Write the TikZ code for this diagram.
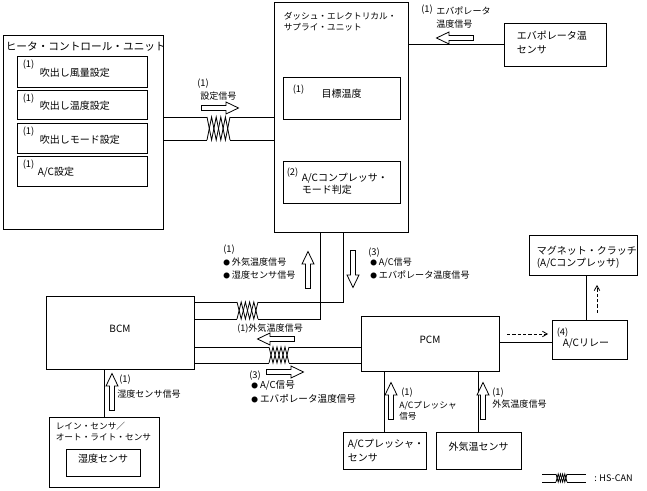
\documentclass[tikz,border=0pt]{standalone}
\usepackage{fontspec}
\setmainfont{Noto Sans CJK JP}
\usepackage{tikz}
\usetikzlibrary{arrows,fit}

\newcommand\sbul{{\fontsize{5}{5}\selectfont ●}\ }
\newcommand\twist[5]{%
\draw[wire] (#1,#3) foreach \k in {1,...,#5} {-- ({#1+(#2-#1)*\k/#5},{#3+(#4-#3)*mod(\k,2)})};
\draw[wire] (#1,#4) foreach \k in {1,...,#5} {-- ({#1+(#2-#1)*\k/#5},{#4+(#3-#4)*mod(\k,2)})};
}
\tikzset{
sigarrow/.pic={\draw[line width=0.6pt, fill=white] (-18.5,-2.5) -- (6,-2.5) -- (6,-6) -- (18.5,0) -- (6,6) -- (6,2.5) -- (-18.5,2.5) -- cycle;}
}

\begin{document}
\begin{tikzpicture}[x=0.75pt, y=-0.75pt,
box/.style={draw, line width=0.7pt, inner sep=0pt},
wire/.style={line width=0.6pt},
txt/.style={font=\fontsize{7.5}{9}\selectfont, inner sep=0pt},
lbl/.style={font=\fontsize{6.8}{9.5}\selectfont, inner sep=0pt, align=left},
num/.style={font=\fontsize{7}{8}\selectfont, inner sep=0pt},
hint/.style={line width=0.6pt, dash pattern=on 2.5pt off 1.5pt, ->, >=angle 60}]
\useasboundingbox (0,0) rectangle (647,491);

% heater control unit
\node[box, fit={(3,35) (163,229)}] (hcu) {};
\node[txt, font=\fontsize{8}{9}\selectfont, anchor=west] (hcut) at ([shift={(3,12)}]hcu.north west) {ヒータ・コントロール・ユニット};
\node[box, fit={(17,56) (147,87)}] (hcu1) {};
\node[num, anchor=north west] (hcu1n) at ([shift={(6,4)}]hcu1.north west) {(1)};
\node[txt, anchor=west] (hcu1t) at ([shift={(23,1.5)}]hcu1.west) {吹出し風量設定};
\node[box, fit={(17,90) (147,119)}] (hcu2) {};
\node[num, anchor=north west] (hcu2n) at ([shift={(6,4)}]hcu2.north west) {(1)};
\node[txt, anchor=west] (hcu2t) at ([shift={(23,1.5)}]hcu2.west) {吹出し温度設定};
\node[box, fit={(17,123) (147,153)}] (hcu3) {};
\node[num, anchor=north west] (hcu3n) at ([shift={(6,4)}]hcu3.north west) {(1)};
\node[txt, anchor=west] (hcu3t) at ([shift={(23,1.5)}]hcu3.west) {吹出しモード設定};
\node[box, fit={(17,156) (147,186)}] (hcu4) {};
\node[num, anchor=north west] (hcu4n) at ([shift={(6,4)}]hcu4.north west) {(1)};
\node[txt, anchor=west] (hcu4t) at ([shift={(21,1.5)}]hcu4.west) {A/C設定};

% dash electrical supply unit
\node[box, fit={(274,2) (408,232)}] (desu) {};
\node[lbl, font=\fontsize{6.5}{8.5}\selectfont, anchor=north west] (desut) at ([shift={(10,10)}]desu.north west) {ダッシュ・エレクトリカル・\\サプライ・ユニット};
\node[box, txt, fit={(283,77) (400,119)}] (tgt) {目標温度};
\node[num, anchor=north west] (tgtn) at ([shift={(10,8)}]tgt.north west) {(1)};
\node[box, fit={(283,161) (400,203)}] (comp) {};
\node[num, anchor=north west] (compn) at ([shift={(4,7)}]comp.north west) {(2)};
\node[txt, align=left, anchor=north west] (compt) at ([shift={(19,12)}]comp.north west) {A/Cコンプレッサ・\\モード判定};

% sensors and modules
\node[box, fit={(504,23) (606,66)}] (evap) {};
\node[txt, align=left, font=\fontsize{7.5}{11}\selectfont, anchor=north west] (evapt) at ([shift={(13,8)}]evap.north west) {エバポレータ温\\センサ};
\node[box, txt, fit={(46,296) (194,369)}] (bcm) {BCM};
\node[box, txt, fit={(361,316) (499,371)}] (pcm) {PCM};
\node[box, fit={(529,235) (637,275)}] (clutch) {};
\node[txt, align=left, anchor=north west] (clutcht) at ([shift={(8,11)}]clutch.north west) {マグネット・クラッチ\\(A/Cコンプレッサ)};
\node[box, fit={(552,320) (627,359)}] (relay) {};
\node[num, anchor=west] (relayn) at ([shift={(5,13)}]relay.north west) {(4)};
\node[txt, anchor=west] (relayt) at ([shift={(11,24)}]relay.north west) {A/Cリレー};
\node[box, fit={(49,417) (159,487)}] (rain) {};
\node[lbl, font=\fontsize{6.5}{8.5}\selectfont, anchor=north west] (raint) at ([shift={(7,5)}]rain.north west) {レイン・センサ／\\オート・ライト・センサ};
\node[box, txt, fit={(66,449) (140,476)}] (hum) {湿度センサ};
\node[box, fit={(343,432) (426,469)}] (ap) {};
\node[txt, align=left, font=\fontsize{7.5}{10.5}\selectfont, anchor=north west] (apt) at ([shift={(5,7)}]ap.north west) {A/Cプレッシャ・\\センサ};
\node[box, txt, fit={(436,432) (521,469)}] (ot) {外気温センサ};

% signal labels
\node[num, anchor=west] (sets1) at (197,84) {(1)};
\node[lbl, anchor=west] (sets2) at (200,96) {設定信号};
\node[num, anchor=west] (evs1) at (421,10) {(1)};
\node[lbl, anchor=north west] (evs2) at (436,7) {エバポレータ\\温度信号};
\node[num, anchor=west] (ups1) at (223,250) {(1)};
\node[lbl, anchor=north west] (ups2) at (223,258) {\sbul 外気温度信号\\\sbul 湿度センサ信号};
\node[num, anchor=west] (dns1) at (368,253) {(3)};
\node[lbl, anchor=north west] (dns2) at (370,258) {\sbul A/C信号\\\sbul エバポレータ温度信号};
\node[lbl, anchor=west] (ots1) at (237,329) {(1)外気温度信号};
\node[num, anchor=west] (acs1) at (249,376) {(3)};
\node[lbl, font=\fontsize{7.2}{10.5}\selectfont, anchor=north west] (acs2) at (251,380) {\sbul A/C信号\\\sbul エバポレータ温度信号};
\node[num, anchor=west] (hus1) at (119,380) {(1)};
\node[lbl, anchor=west] (hus2) at (117,394) {湿度センサ信号};
\node[num, anchor=west] (aps1) at (401,393) {(1)};
\node[lbl, font=\fontsize{6.5}{8.5}\selectfont, anchor=north west] (aps2) at (399,401) {A/Cプレッシャ\\信号};
\node[num, anchor=west] (ots2) at (492,393) {(1)};
\node[lbl, anchor=west] (ots3) at (492,404) {外気温度信号};

% wires
\coordinate (tw1a) at (207,117); \coordinate (tw1b) at (230,140);
\draw[wire] (hcu.east |- tw1a) -- (tw1a);
\draw[wire] (hcu.east |- tw1b) -- (tw1a |- tw1b);
\draw[wire] (tw1b |- tw1a) -- (desu.west |- tw1a);
\draw[wire] (tw1b) -- (desu.west |- tw1b);
\twist{207}{230}{117}{140}{5}
\draw[wire] (desu.east |- evap.west) -- (evap.west);
\coordinate (tw2a) at (237,302); \coordinate (tw2b) at (258,319);
\coordinate (dr) at (343,302); \coordinate (dl) at (320,319);
\draw[wire] (desu.south -| dr) |- (tw2b |- dr);
\draw[wire] (desu.south -| dl) |- (tw2b);
\draw[wire] (tw2a) -- (bcm.east |- tw2a);
\draw[wire] (tw2a |- tw2b) -- (bcm.east |- tw2b);
\twist{237}{258}{302}{319}{5}
\coordinate (tw3a) at (269,347); \coordinate (tw3b) at (289,363);
\draw[wire] (bcm.east |- tw3a) -- (tw3a);
\draw[wire] (bcm.east |- tw3b) -- (tw3a |- tw3b);
\draw[wire] (tw3b |- tw3a) -- (pcm.west |- tw3a);
\draw[wire] (tw3b) -- (pcm.west |- tw3b);
\twist{269}{289}{347}{363}{5}
\coordinate (w8) at (0,342); \coordinate (w9) at (586,0);
\draw[wire] (pcm.east |- w8) -- (relay.west |- w8);
\draw[wire] (relay.north -| w9) -- (clutch.south -| w9);
\draw[wire] (rain.north) -- (rain.north |- bcm.south);
\draw[wire] (ap.north) -- (ap.north |- pcm.south);
\draw[wire] (ot.north) -- (ot.north |- pcm.south);

% signal arrows
\pic at (220,108) {sigarrow};
\pic[rotate=180] at (455,38) {sigarrow};
\pic[rotate=90] at (308,270) {sigarrow};
\pic[rotate=-90] at (353,269) {sigarrow};
\pic[rotate=180] at (276,339) {sigarrow};
\pic at (285,372) {sigarrow};
\pic[rotate=90] at (112,392) {sigarrow};
\pic[rotate=90] at (391,401) {sigarrow};
\pic[rotate=90] at (483,401) {sigarrow};
\coordinate (ds1) at (507,334); \coordinate (ds2) at (548,334);
\draw[hint] (ds1) -- (ds2);
\coordinate (ds3) at (597,313); \coordinate (ds4) at (597,285);
\draw[hint] (ds3) -- (ds4);

% legend
\coordinate (lga) at (542,474); \coordinate (lgb) at (586,482);
\coordinate (tw4a) at (556,474); \coordinate (tw4b) at (567,482);
\draw[wire] (lga) -- (tw4a);
\draw[wire] (lga |- tw4b) -- (tw4a |- tw4b);
\draw[wire] (tw4b |- tw4a) -- (lgb |- tw4a);
\draw[wire] (tw4b) -- (lgb);
\twist{556}{567}{474}{482}{5}
\node[lbl, anchor=west] (lgt) at (594,478) {: HS-CAN};
\end{tikzpicture}
\end{document}
